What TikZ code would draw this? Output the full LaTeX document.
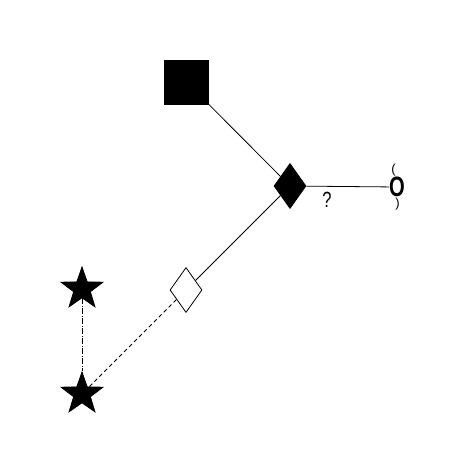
\documentclass[tikz,border=0pt]{standalone}
\usepackage{fontspec}
\setmainfont{Liberation Sans}
\usetikzlibrary{shapes.geometric}
\newcommand{\bigfont}{\fontsize{28}{28}\selectfont}
\newcommand{\midfont}{\fontsize{22}{22}\selectfont}
\newcommand{\smallfont}{\fontsize{13}{13}\selectfont}
\tikzstyle{block}=[draw, fill=black, inner sep=0, minimum size=44pt]
\tikzstyle{rhomb}=[diamond, draw, inner sep=0, minimum width=32pt, minimum height=45pt]
\tikzstyle{fullrhomb}=[rhomb, fill=black]
\tikzstyle{emptyrhomb}=[rhomb, fill=white]
\tikzstyle{starnode}=[star, star points=5, star point ratio=2.5, draw, fill=black, inner sep=0, minimum size=44pt]
\tikzstyle{link}=[line width=0.8pt]
\tikzstyle{dashlink}=[link, dash pattern=on 4pt off 3pt]
\tikzstyle{dotdashlink}=[link, dash pattern=on 6pt off 1.5pt on 1pt off 1.5pt]
\begin{document}
\begin{tikzpicture}[x=1pt, y=-1pt, line width=0.8pt,
                    % Labels sit right on the nodes.
                    every label/.style={inner sep=0, outer sep=0.5pt, font=\smallfont}]
    \useasboundingbox (0,0) rectangle (476,476);
    \node[block] (S) at (186.5,82) {};
    \node[fullrhomb] (D) at (290,186) {};
    \node[emptyrhomb] (E) at (186,290) {};
    \node[starnode] (T1) at (82,289) {};
    \node[starnode] (T2) at (82,394) {};
    \node[inner sep=0, font=\bigfont\bfseries,
          label={[xshift=-3.5pt]above:{(}},
          label={[xshift=0.5pt]below:{)}}] (O) at (397,187) {\scalebox{0.72}[1]{O}};
    \draw[link] (D) -- (S);
    \draw[link] (D) -- node[pos=0.25, below=5pt, inner sep=0, font=\midfont] (Q) {\scalebox{0.75}[1]{?}} (O);
    \draw[link] (D) -- (E);
    \draw[dashlink] (E) -- (T2);
    \draw[dotdashlink] (T1) -- (T2);
\end{tikzpicture}
\end{document}
